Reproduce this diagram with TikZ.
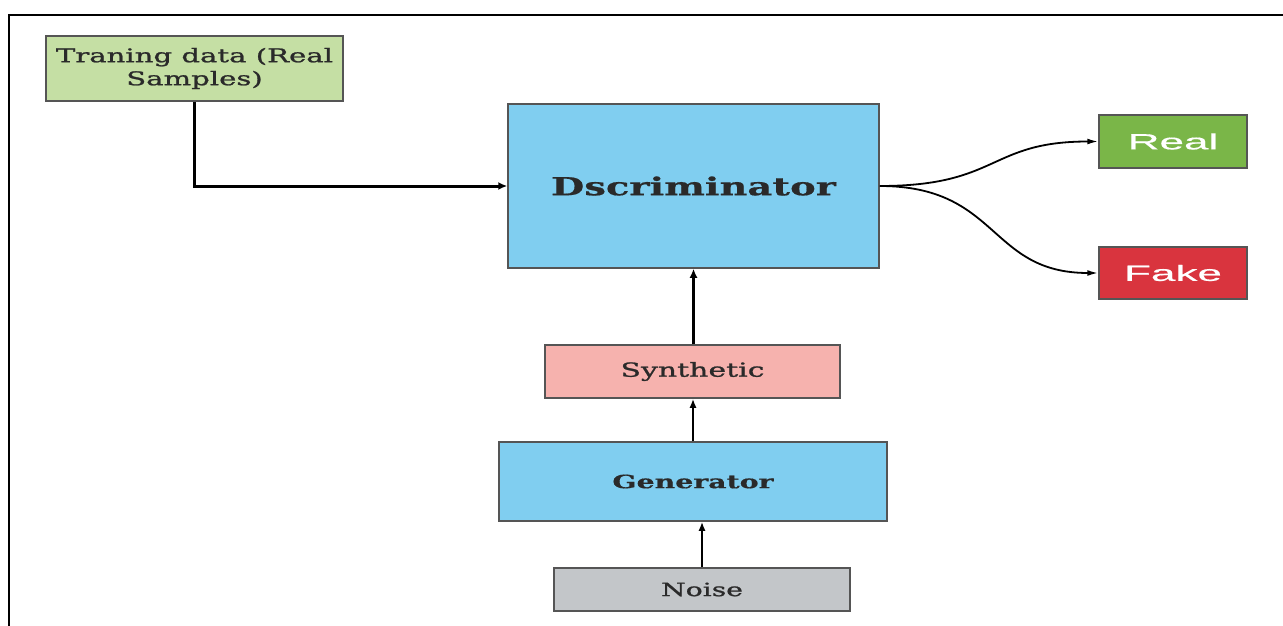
\documentclass[tikz,border=0pt]{standalone}
\usepackage{fontspec}
\usetikzlibrary{arrows.meta,calc}
\newfontfamily\slabfont[FakeStretch=1.55,FakeBold=1.2]{DejaVu Serif}
\newfontfamily\slabbold[FakeStretch=1.55,FakeBold=0.6]{DejaVu Serif Bold}
\newfontfamily\widesans[FakeStretch=2.0,FakeBold=0.5]{Liberation Sans}
\definecolor{trgreen}{HTML}{C5DFA4}
\definecolor{dblue}{HTML}{80CEF0}
\definecolor{rgreen}{HTML}{7AB648}
\definecolor{fred}{HTML}{D9343E}
\definecolor{spink}{HTML}{F6B2AE}
\definecolor{ngray}{HTML}{C3C6C9}
\definecolor{bord}{HTML}{555555}
\definecolor{txt}{HTML}{2A2A2A}
\begin{document}
\begin{tikzpicture}[x=1pt,y=-1pt,
  box/.style={draw=bord,line width=1.5pt,inner sep=0pt,anchor=center,text=txt,align=center},
  outbox/.style={box,text=white,font=\widesans\fontsize{22}{26}\selectfont},
  thick arrow/.style={line width=3pt,-{Latex[length=9pt,width=8pt]}},
  thin arrow/.style={line width=2pt,-{Latex[length=9pt,width=7pt]}},
  curve arrow/.style={line width=1.8pt,-{Latex[length=11pt,width=6pt]}}]
\useasboundingbox (0,0) rectangle (1283,626);
\fill[white] (0,0) rectangle (1283,626);
\draw[line width=2pt] (9,626) -- (9,15) -- (1283,15);

\node[box,fill=trgreen,minimum width=297pt,minimum height=65pt,
  font=\slabfont\fontsize{18.8}{23}\selectfont] (train) at (194.5,68.5)
  {Traning data (Real\\Samples)};
\node[box,fill=dblue,minimum width=371pt,minimum height=164pt,
  font=\slabbold\fontsize{24.8}{28}\selectfont] (disc) at (693.5,186) {Dscriminator};
\node[outbox,fill=rgreen,minimum width=148pt,minimum height=53pt] (real) at (1173,141.5) {Real};
\node[outbox,fill=fred,minimum width=148pt,minimum height=52pt] (fake) at (1173,273) {Fake};
\node[box,fill=spink,minimum width=295pt,minimum height=53pt,
  font=\slabfont\fontsize{19.3}{22}\selectfont] (synth) at (692.5,371.5) {Synthetic};
\node[box,fill=dblue,minimum width=388pt,minimum height=79pt,
  font=\slabbold\fontsize{18.3}{21}\selectfont] (gen) at (693,481.5) {Generator};
\node[box,fill=ngray,minimum width=296pt,minimum height=43pt,
  font=\slabfont\fontsize{18.2}{20}\selectfont] (noise) at (702,589.5) {Noise};

\draw[thick arrow] (train.south) |- (disc.west);
\draw[curve arrow] (disc.east) .. controls ($(disc.east)+(120,0)$) and ($(real.west)+(-110,0)$) .. (real.west);
\draw[curve arrow] (disc.east) .. controls ($(disc.east)+(120,0)$) and ($(fake.west)+(-110,0)$) .. (fake.west);
\draw[thick arrow] (synth.north -| disc.south) -- (disc.south);
\draw[thin arrow] (gen.north) -- (synth.south -| gen.north);
\draw[thin arrow] (noise.north) -- (noise.north |- gen.south);
\end{tikzpicture}
\end{document}
